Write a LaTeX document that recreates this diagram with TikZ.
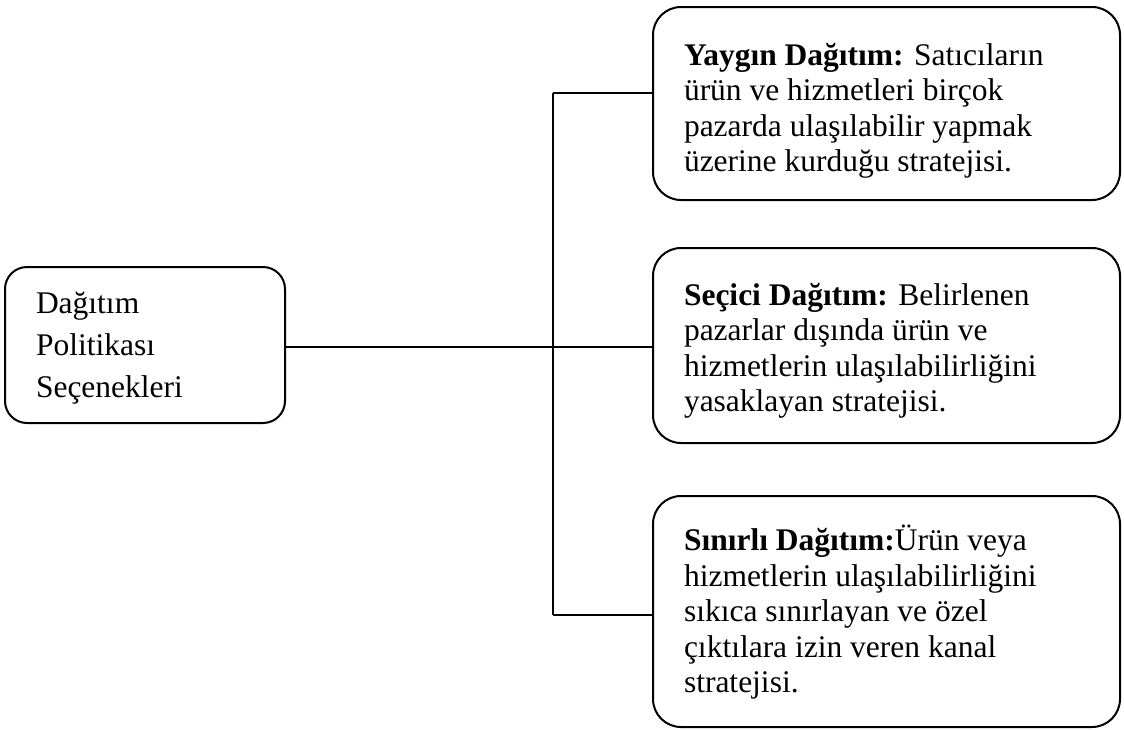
\documentclass[tikz,border=0pt]{standalone}
\usepackage{fontspec}
\setmainfont{Liberation Serif}
\usetikzlibrary{positioning}

\tikzset{
  kutu/.style={draw, rounded corners=14pt, minimum width=233.5pt},
  anakutu/.style={draw, rounded corners=11pt, minimum width=140pt, minimum height=78pt},
  yazi/.style={align=left, inner sep=0pt, anchor=north west,
    font=\fontsize{15.75}{17.75}\selectfont}
}

\begin{document}
\begin{tikzpicture}[x=0.5pt,y=-0.5pt,line width=1pt]
		\useasboundingbox (0,0) rectangle (1124,729);
		% kutular
		\node[anakutu] (politika) at (145,345) {};
		\node[kutu,minimum height=96.5pt] (yaygin) at (886.5,103.5) {};
		\node[kutu,minimum height=97.5pt] (secici) at (886.5,345.5) {};
		\node[kutu,minimum height=115.5pt] (sinirli) at (886.5,611.5) {};
		% yazilar
		\node[yazi,font=\fontsize{15.75}{21}\selectfont] (politikayazi) at (35,291) {Dağıtım\\Politikası\\Seçenekleri};
		\node[yazi] (yayginyazi) at (683,42) {\textbf{Yaygın Dağıtım:} Satıcıların\\ürün ve hizmetleri birçok\\pazarda ulaşılabilir yapmak\\üzerine kurduğu stratejisi.};
		\node[yazi] (seciciyazi) at (683,282) {\textbf{Seçici Dağıtım:} Belirlenen\\pazarlar dışında ürün ve\\hizmetlerin ulaşılabilirliğini\\yasaklayan stratejisi.};
		\node[yazi] (sinirliyazi) at (683,524) {\textbf{Sınırlı Dağıtım:}Ürün veya\\hizmetlerin ulaşılabilirliğini\\sıkıca sınırlayan ve özel\\çıktılara izin veren kanal\\stratejisi.};
		% baglantilar
		\coordinate (ust) at (553,93);
		\coordinate (orta) at (553,347);
		\coordinate (alt) at (553,615);
		\draw (politika.east |- orta) -- (orta -| secici.west);
		\draw (ust) -- (alt);
		\draw (ust) -- (ust -| yaygin.west);
		\draw (alt) -- (alt -| sinirli.west);
\end{tikzpicture}
\end{document}
